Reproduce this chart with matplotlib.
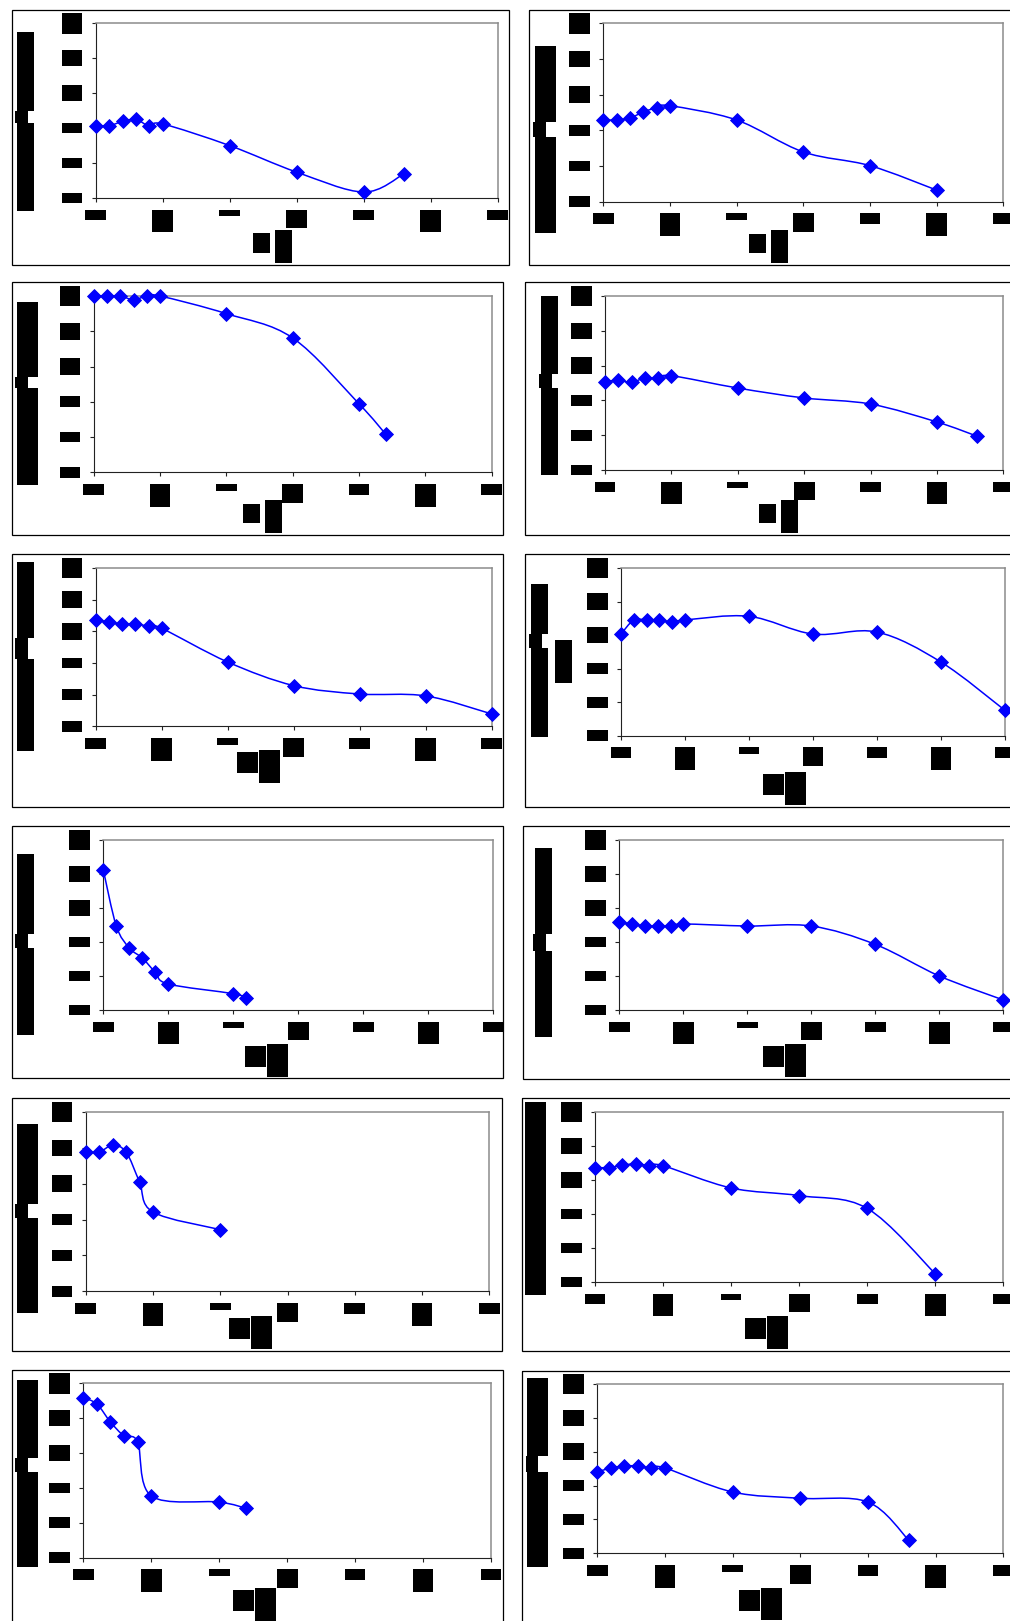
import numpy as np
import matplotlib
matplotlib.use("Agg")
import matplotlib.pyplot as plt
from matplotlib.patches import Rectangle, PathPatch
from matplotlib.path import Path
from matplotlib.transforms import Affine2D, Bbox

# ---------------------------------------------------------------- data
x_tick_labels = ["0", "5", "10", "15", "20", "25", "30"]
y_tick_labels = ["0", "20", "40", "60", "80", "100"]
x_ticks = [0, 5, 10, 15, 20, 25, 30]
y_ticks = [0, 20, 40, 60, 80, 100]

days_1 = [0, 1, 2, 3, 4, 5, 10, 15, 20, 23]
activity_1 = [41.4, 41.4, 43.8, 45.0, 41.2, 42.4, 30.0, 14.8, 3.4, 13.8]

days_2 = [0, 1, 2, 3, 4, 5, 10, 15, 20, 25]
activity_2 = [45.8, 45.8, 46.9, 50.3, 52.7, 53.8, 45.8, 27.9, 20.2, 6.5]

days_3 = [0, 1, 2, 3, 4, 5, 10, 15, 20, 22]
activity_3 = [100.0, 100.0, 100.0, 97.9, 100.0, 100.0, 90.0, 76.2, 38.8, 21.7]

days_4 = [0, 1, 2, 3, 4, 5, 10, 15, 20, 25, 28]
activity_4 = [50.8, 51.5, 50.4, 52.9, 52.7, 54.2, 47.1, 41.4, 37.9, 27.6, 19.5]

days_5 = [0, 1, 2, 3, 4, 5, 10, 15, 20, 25, 30]
activity_5 = [67.2, 65.9, 64.6, 64.6, 63.2, 61.9, 40.6, 25.7, 20.4, 19.2, 7.8]

days_6 = [0, 1, 2, 3, 4, 5, 10, 15, 20, 25, 30]
activity_6 = [60.6, 69.0, 69.0, 69.0, 67.8, 69.0, 71.2, 60.6, 61.8, 43.9, 15.1]

days_7 = [0, 1, 2, 3, 4, 5, 10, 11]
activity_7 = [82.4, 49.4, 36.5, 30.6, 22.2, 15.3, 9.6, 7.1]

days_8 = [0, 1, 2, 3, 4, 5, 10, 15, 20, 25, 30]
activity_8 = [51.6, 50.6, 49.4, 49.4, 49.4, 50.6, 49.4, 49.4, 38.6, 20.0, 5.9]

days_9 = [0, 1, 2, 3, 4, 5, 10]
activity_9 = [77.7, 77.7, 81.4, 77.7, 61.0, 44.2, 34.4]

days_10 = [0, 1, 2, 3, 4, 5, 10, 15, 20, 25]
activity_10 = [67.3, 67.3, 68.6, 69.6, 68.4, 68.4, 55.3, 50.8, 43.3, 4.9]

days_11 = [0, 1, 2, 3, 4, 5, 10, 12]
activity_11 = [91.8, 88.1, 77.8, 69.8, 66.3, 35.4, 31.9, 28.3]

days_12 = [0, 1, 2, 3, 4, 5, 10, 15, 20, 23]
activity_12 = [48.0, 50.4, 51.6, 51.6, 50.4, 50.4, 36.2, 32.5, 30.3, 7.9]

series = [
    (days_1, activity_1), (days_2, activity_2), (days_3, activity_3),
    (days_4, activity_4), (days_5, activity_5), (days_6, activity_6),
    (days_7, activity_7), (days_8, activity_8), (days_9, activity_9),
    (days_10, activity_10), (days_11, activity_11), (days_12, activity_12),
]

y_title = "Relative activity (%)"
x_title = "Time (d)"

# ---------------------------------------------------------------- layout (pixels, origin top-left)
# frame: panel border (l, t, r, b); plot: axes box (l, t, r, b)
# ybar: y-title bar (x0, x1, y0, y1); notch: (y0, y1, x0, x1); extra box; xt: x-title boxes
layout = [
    dict(frame=(11.7, 10, 509.3, 265), plot=(95.7, 23.3, 497.7, 198),
         ybar=(17.3, 34, 31.7, 210.7), notch=(110.7, 123.3, 15, 28.3), extra=None,
         xt=[(253.3, 270, 233.3, 252.7), (275, 292, 230, 263.3)]),
    dict(frame=(529.3, 10, 1014, 265), plot=(603.3, 23.3, 1003.3, 201.7),
         ybar=(535.3, 556, 46, 232.7), notch=(122.3, 136.7, 533.3, 546), extra=None,
         xt=[(749.3, 766, 234, 252.7), (771, 787.7, 230, 262.7)]),
    dict(frame=(11.7, 281.7, 503.3, 535), plot=(93.7, 296, 491.7, 472.3),
         ybar=(17.3, 37.7, 301.7, 485), notch=(376.7, 388.3, 15, 28.3), extra=None,
         xt=[(243.3, 260, 504, 522.7), (265, 282, 500, 532.7)]),
    dict(frame=(525, 281.7, 1014, 535), plot=(605, 296, 1003.3, 470),
         ybar=(541, 557.7, 295.7, 475), notch=(374.3, 388.3, 539, 551.7), extra=None,
         xt=[(759.3, 776, 504, 522.7), (781, 798, 500, 532.7)]),
    dict(frame=(11.7, 553.7, 503.3, 807.3), plot=(95.7, 568, 491.7, 726.3),
         ybar=(17.3, 34, 562, 750.7), notch=(638, 658.7, 15, 28.3), extra=None,
         xt=[(237, 257.7, 752, 773), (259, 279.7, 750, 783)]),
    dict(frame=(525, 553.7, 1014, 807.3), plot=(621, 568, 1005, 735.7),
         ybar=(531, 547.7, 584, 736.7), notch=(634, 648, 529, 541.7),
         extra=(555, 571.7, 640.3, 683),
         xt=[(763.3, 784, 774, 794.7), (785, 805.7, 772, 804.7)]),
    dict(frame=(11.7, 826, 503.3, 1078.3), plot=(103.3, 840, 493.3, 1010),
         ybar=(17.3, 34, 854, 1035), notch=(934.3, 948.3, 15, 28.3), extra=None,
         xt=[(245, 266, 1046, 1066.7), (266.7, 287.7, 1044, 1076.7)]),
    dict(frame=(523.3, 826, 1014, 1079.3), plot=(619.3, 840, 1003.3, 1010),
         ybar=(535, 551.7, 848.3, 1036.7), notch=(934.3, 950.7, 532.7, 546), extra=None,
         xt=[(763.3, 784, 1046, 1066.7), (785, 805.7, 1044, 1076.7)]),
    dict(frame=(11.7, 1097.7, 501.7, 1351.3), plot=(85.7, 1112, 489.3, 1291.3),
         ybar=(17.3, 37.7, 1124.3, 1312.7), notch=(1203.7, 1218, 15, 28.3), extra=None,
         xt=[(229, 250, 1318, 1338.7), (251, 272, 1316, 1348.7)]),
    dict(frame=(521.7, 1097.7, 1014, 1351.3), plot=(595, 1112, 1003.3, 1282),
         ybar=(525, 546, 1102, 1294.7), notch=None, extra=None,
         xt=[(745, 765.7, 1318, 1338.7), (767, 788, 1316, 1348.7)]),
    dict(frame=(11.7, 1369.7, 503.3, 1630), plot=(83.3, 1383.3, 491, 1557.7),
         ybar=(17.3, 37.7, 1380, 1566.7), notch=(1458.3, 1472.3, 15, 28.3), extra=None,
         xt=[(232.7, 254, 1590, 1611), (255, 276, 1587.7, 1621.7)]),
    dict(frame=(521.7, 1370.5, 1014, 1630), plot=(597.3, 1384, 1003.3, 1553.3),
         ybar=(527.3, 547.7, 1378.3, 1566.7), notch=(1456, 1471.7, 525.7, 537.7), extra=None,
         xt=[(739, 760, 1590, 1610.7), (761, 782, 1587.7, 1620)]),
]

# tick-label box sizes (pixels)
XLAB_H = [10.7, 22.7, 6.7, 18.7, 10.7, 22.7, 10.7]
YLAB_H = [10.5, 10.7, 10.7, 16.5, 16.5, 20.7]
LAB_W = 20.7

W, H = 1010, 1621
fig = plt.figure(figsize=(W / 100, H / 100), dpi=100)
fig.patch.set_facecolor("white")
TOP = Affine2D().scale(1, -1).translate(0, H)   # pixel coordinates from the top-left corner


def black_label(rects, label, rotation=0, fontsize=7):
    """Solid black label block; the text sits inside, clipped to its largest part."""
    verts, codes = [], []
    for x0, x1, y0, y1 in rects:
        verts += [(x0, y0), (x1, y0), (x1, y1), (x0, y1), (x0, y0)]
        codes += [Path.MOVETO, Path.LINETO, Path.LINETO, Path.LINETO, Path.CLOSEPOLY]
    patch = PathPatch(Path(verts, codes), transform=TOP, facecolor="black",
                      edgecolor="none", zorder=5)
    fig.add_artist(patch)
    x0, x1, y0, y1 = max(rects, key=lambda q: (q[1] - q[0]) * (q[3] - q[2]))
    t = fig.text((x0 + x1) / 2, (y0 + y1) / 2, label,
                 transform=TOP, rotation=rotation, ha="center", va="center",
                 fontsize=fontsize, color="black", zorder=6)
    # clip box in display pixels (bottom-left origin)
    t.set_clip_box(Bbox.from_extents(x0, H - y1, x1, H - y0))
    t.set_clip_on(True)


def smooth_path(x, y):
    """Smoothed line through the points (cubic Bezier, Catmull-Rom tangents)."""
    pts = np.column_stack([x, y]).astype(float)
    n = len(pts)
    verts, codes = [pts[0]], [Path.MOVETO]
    for i in range(n - 1):
        p0 = pts[i - 1] if i > 0 else pts[i]
        p1, p2 = pts[i], pts[i + 1]
        p3 = pts[i + 2] if i + 2 < n else pts[i + 1]
        verts += [p1 + (p2 - p0) / 6.0, p2 - (p3 - p1) / 6.0, p2]
        codes += [Path.CURVE4] * 3
    return Path(verts, codes)


for (days, act), lay in zip(series, layout):
    fl, ft, fr, fb = lay["frame"]
    fig.add_artist(Rectangle((fl, ft), fr - fl, fb - ft, transform=TOP, fill=False,
                             edgecolor="black", linewidth=0.9, zorder=1))

    l, t, r, b = lay["plot"]
    ax = fig.add_axes([l / W, 1 - b / H, (r - l) / W, (b - t) / H])
    ax.set_xlim(0, 30)
    ax.set_ylim(0, 100)
    ax.set_xticks(x_ticks)
    ax.set_yticks(y_ticks)
    ax.tick_params(direction="out", length=2.6, width=0.8, color="#222222",
                   labelbottom=False, labelleft=False)
    for side in ("top", "right"):
        ax.spines[side].set_color("#8c8c8c")
        ax.spines[side].set_linewidth(1.1)
    for side in ("left", "bottom"):
        ax.spines[side].set_color("#222222")
        ax.spines[side].set_linewidth(0.8)

    ax.add_patch(PathPatch(smooth_path(days, act), fill=False, edgecolor="#0000ff",
                           linewidth=1.1, transform=ax.transData, clip_on=False, zorder=3))
    ax.plot(days, act, linestyle="none", marker="D", markersize=6.8,
            markerfacecolor="#0000ff", markeredgecolor="#0000ee", markeredgewidth=0.6,
            clip_on=False, zorder=4)

    # x tick labels
    for tick, lab, h in zip(x_ticks, x_tick_labels, XLAB_H):
        cx = ax.transData.transform((tick, 0))[0]
        y0 = b + 11.5
        black_label([(cx - LAB_W / 2, cx + LAB_W / 2, y0, y0 + h)], lab, fontsize=6)

    # y tick labels
    for tick, lab, h in zip(y_ticks, y_tick_labels, YLAB_H):
        cy = H - ax.transData.transform((0, tick))[1]
        x1 = l - 13.5
        black_label([(x1 - LAB_W, x1, cy - h / 2, cy + h / 2)], lab, fontsize=6)

    # y axis title
    bx0, bx1, by0, by1 = lay["ybar"]
    if lay["notch"] is None:
        rects = [(bx0, bx1, by0, by1)]
    else:
        n0, n1, nx0, nx1 = lay["notch"]
        rects = [(bx0, bx1, by0, n0), (nx0, nx1, n0, n1), (bx0, bx1, n1, by1)]
    black_label(rects, y_title, rotation=90, fontsize=8)
    if lay["extra"] is not None:
        ex0, ex1, ey0, ey1 = lay["extra"]
        black_label([(ex0, ex1, ey0, ey1)], "(n = 3)", rotation=90, fontsize=7)

    # x axis title
    black_label(lay["xt"], x_title, fontsize=8)

fig.savefig("out.png", dpi=100, facecolor="white")
